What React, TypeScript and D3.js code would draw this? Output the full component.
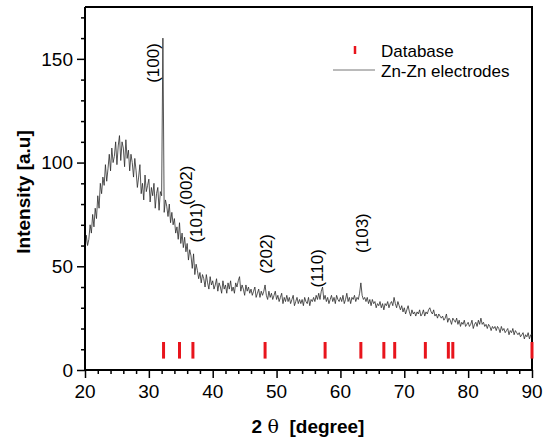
import React, { useEffect, useRef } from 'react';
import * as d3 from 'd3';

// XRD pattern, 2θ from 20 to 90 in steps of 0.2 degree
const startAngle = 20;
const stepAngle = 0.2;
const intensity: number[] = [
  57, 65, 60, 63, 70, 66, 75, 69, 78, 73,
  84, 78, 90, 85, 93, 89, 99, 91, 97, 104,
  96, 107, 100, 103, 110, 99, 108, 113, 101, 110,
  107, 98, 111, 102, 106, 96, 104, 100, 93, 102,
  96, 88, 93, 99, 85, 90, 82, 94, 86, 89,
  92, 81, 88, 84, 90, 78, 85, 88, 77, 86,
  84, 160, 76, 82, 79, 74, 80, 71, 76, 70,
  73, 66, 69, 63, 71, 61, 66, 59, 64, 57,
  61, 53, 58, 55, 49, 56, 46, 51, 48, 44,
  47, 42, 46, 44, 40, 46, 42, 39, 45, 41,
  43, 39, 41, 44, 38, 42, 40, 37, 43, 39,
  41, 37, 42, 39, 43, 38, 40, 37, 42, 40,
  43, 45, 38, 41, 39, 36, 41, 38, 40, 37,
  39, 36, 38, 40, 35, 37, 39, 35, 38, 36,
  38, 41, 36, 34, 38, 35, 37, 34, 36, 38,
  34, 36, 33, 35, 37, 32, 35, 33, 36, 33,
  35, 32, 34, 36, 31, 33, 35, 32, 34, 32,
  34, 31, 35, 33, 32, 35, 31, 34, 33, 35,
  33, 36, 34, 37, 34, 38, 40, 34, 36, 33,
  35, 32, 34, 36, 33, 35, 32, 36, 34, 33,
  35, 33, 36, 32, 34, 37, 33, 35, 32, 35,
  34, 36, 33, 35, 34, 37, 42, 36, 34, 35,
  33, 35, 32, 34, 31, 34, 32, 33, 30, 32,
  31, 33, 30, 32, 29, 32, 31, 33, 30, 32,
  33, 31, 35, 32, 30, 33, 31, 29, 31, 28,
  30, 27, 29, 31, 28, 26, 29, 27, 28, 26,
  28, 27, 29, 26, 27, 29, 26, 28, 27, 29,
  30, 28, 27, 29, 26, 27, 25, 27, 26, 25,
  26, 24, 25, 27, 23, 25, 24, 22, 25, 24,
  23, 25, 22, 24, 21, 23, 22, 24, 21, 22,
  23, 21, 22, 24, 20, 22, 23, 21, 24, 22,
  25, 22, 23, 21, 22, 20, 22, 21, 19, 21,
  20, 21, 19, 21, 20, 18, 21, 19, 20, 18,
  19, 20, 17, 19, 18, 20, 17, 19, 18, 17,
  18, 16, 17, 18, 15, 17, 16, 18, 15, 17,
  17,
];

// reference (database) reflections
const databaseAngles = [32.3, 34.8, 36.9, 48.2, 57.6, 63.2, 66.8, 68.5, 73.3, 76.9, 77.6, 90];
const databaseLow = 5.5;
const databaseHigh = 13.5;

// peak labels: text, 2θ, intensity of label centre
const peakLabels = ['(100)', '(002)', '(101)', '(202)', '(110)', '(103)'];
const peakLabelAngles = [30.7, 35.8, 37.4, 48.3, 56.3, 63.4];
const peakLabelHeights = [148, 89, 71, 56, 49, 66];

const xTicks = [20, 30, 40, 50, 60, 70, 80, 90];
const yTicks = [0, 50, 100, 150];

const FONT = "'Liberation Sans', Arial, Helvetica, sans-serif";

const App = () => {
  const svgRef = useRef<SVGSVGElement>(null);

  useEffect(() => {
    document.body.style.margin = '0';
    const svg = d3.select(svgRef.current);
    svg.selectAll('*').remove();

    const x = d3.scaleLinear().domain([20, 90]).range([85, 532]);
    const y = d3.scaleLinear().domain([0, 175]).range([370, 7]);

    const points: [number, number][] = intensity.map((v, i) => [startAngle + i * stepAngle, v]);

    // frame top and right
    svg.append('path')
      .attr('d', `M${x(20)},${y(175)}H${x(90)}V${y(0)}`)
      .attr('fill', 'none')
      .attr('stroke', '#000')
      .attr('stroke-width', 2);

    // database sticks
    svg.selectAll('.db')
      .data(databaseAngles)
      .enter()
      .append('line')
      .attr('x1', d => x(d))
      .attr('x2', d => x(d))
      .attr('y1', y(databaseLow))
      .attr('y2', y(databaseHigh))
      .attr('stroke', '#e8141c')
      .attr('stroke-width', 3);

    // pattern
    const line = d3.line<[number, number]>()
      .x(d => x(d[0]))
      .y(d => y(d[1]));

    svg.append('path')
      .datum(points)
      .attr('fill', 'none')
      .attr('stroke', '#2a2a2a')
      .attr('stroke-width', 0.8)
      .attr('d', line);

    // x axis
    const xAxis = svg.append('g').attr('transform', `translate(0,${y(0)})`);
    xAxis.call(d3.axisBottom(x).tickValues(d3.range(20, 90.1, 2)).tickSize(4).tickFormat(() => ''));
    xAxis.call(g => g.selectAll('.tick').filter((d: any) => xTicks.includes(d)).select('line').attr('y2', 8));
    xAxis.selectAll('.domain').remove();
    xAxis.selectAll('.tick line').attr('stroke-width', 1.5);
    svg.append('line')
      .attr('x1', x(20) - 1).attr('x2', x(90))
      .attr('y1', y(0)).attr('y2', y(0))
      .attr('stroke', '#000').attr('stroke-width', 2);
    svg.selectAll('.xlab')
      .data(xTicks)
      .enter()
      .append('text')
      .attr('x', d => x(d))
      .attr('y', 398)
      .attr('text-anchor', 'middle')
      .style('font-family', FONT)
      .style('font-size', '19px')
      .text(d => d);

    // y axis
    const yAxis = svg.append('g').attr('transform', `translate(${x(20)},0)`);
    yAxis.call(d3.axisLeft(y).tickValues(d3.range(0, 175, 10)).tickSize(4).tickFormat(() => ''));
    yAxis.call(g => g.selectAll('.tick').filter((d: any) => yTicks.includes(d)).select('line').attr('x2', -8));
    yAxis.selectAll('.domain').remove();
    yAxis.selectAll('.tick line').attr('stroke-width', 1.5);
    svg.append('line')
      .attr('x1', x(20)).attr('x2', x(20))
      .attr('y1', y(175)).attr('y2', y(0) + 1)
      .attr('stroke', '#000').attr('stroke-width', 2);
    svg.selectAll('.ylab')
      .data(yTicks)
      .enter()
      .append('text')
      .attr('x', 73)
      .attr('y', d => y(d))
      .attr('dy', '0.35em')
      .attr('text-anchor', 'end')
      .style('font-family', FONT)
      .style('font-size', '19px')
      .text(d => d);

    // peak labels
    svg.selectAll('.peak')
      .data(peakLabels)
      .enter()
      .append('text')
      .attr('transform', (d, i) => `translate(${x(peakLabelAngles[i])},${y(peakLabelHeights[i])}) rotate(-90)`)
      .attr('text-anchor', 'middle')
      .attr('dy', '0.35em')
      .style('font-family', FONT)
      .style('font-size', '17px')
      .text(d => d);

    // axis titles
    svg.append('text')
      .attr('transform', 'translate(30,192) rotate(-90)')
      .attr('text-anchor', 'middle')
      .style('font-family', FONT)
      .style('font-size', '19px')
      .style('font-weight', 'bold')
      .text('Intensity [a.u]');

    const xTitle = svg.append('text')
      .attr('x', 308)
      .attr('y', 433)
      .attr('text-anchor', 'middle')
      .style('font-family', FONT)
      .style('font-size', '19px')
      .style('font-weight', 'bold')
      .attr('xml:space', 'preserve');
    xTitle.append('tspan').text('2 ');
    xTitle.append('tspan').style('font-weight', 'normal').style('font-family', "'DejaVu Serif', serif").text('θ');
    xTitle.append('tspan').text('  [degree]');

    // legend
    svg.append('line')
      .attr('x1', 355).attr('x2', 355)
      .attr('y1', 46).attr('y2', 54)
      .attr('stroke', '#e8141c').attr('stroke-width', 2.5);
    svg.append('text')
      .attr('x', 381)
      .attr('y', 57)
      .style('font-family', FONT)
      .style('font-size', '17px')
      .text('Database');
    svg.append('line')
      .attr('x1', 333).attr('x2', 375)
      .attr('y1', 70).attr('y2', 70)
      .attr('stroke', '#777').attr('stroke-width', 1);
    svg.append('text')
      .attr('x', 381)
      .attr('y', 77)
      .style('font-family', FONT)
      .style('font-size', '17px')
      .text('Zn-Zn electrodes');
  }, []);

  return <svg ref={svgRef} width={545} height={439} style={{ display: 'block', background: '#fff' }} />;
};

export default App;
